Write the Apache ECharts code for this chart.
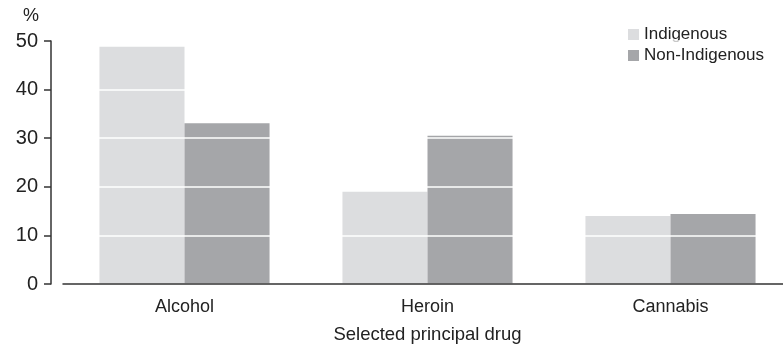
<!DOCTYPE html>
<html>
<head>
<meta charset="utf-8">
<script src="https://cdn.jsdelivr.net/npm/echarts@6/dist/echarts.min.js"></script>
<style>
html,body{margin:0;padding:0;background:#fff;}
#c{width:783px;height:349px;}
</style>
</head>
<body>
<div id="c"></div>
<script>
var categories = ['Alcohol', 'Heroin', 'Cannabis'];
var indigenous = [48.8, 19.0, 14.0];
var nonIndigenous = [33.1, 30.5, 14.4];
var yTicks = [0, 10, 20, 30, 40, 50];

var FONT = 'Liberation Sans, Arial, sans-serif';
var chart = echarts.init(document.getElementById('c'));
chart.setOption({
  animation: false,
  textStyle: {fontFamily: FONT, color: '#222'},
  grid: {left: 63, width: 729, top: 41, bottom: 65, outerBoundsMode: 'none', containLabel: false},
  legend: {
    data: ['Indigenous', 'Non-Indigenous'],
    orient: 'vertical',
    left: 628, top: 26,
    itemWidth: 11, itemHeight: 11, itemGap: 4, padding: 0,
    icon: 'rect',
    textStyle: {fontFamily: FONT, fontSize: 17, color: '#222'}
  },
  xAxis: {
    type: 'category',
    data: categories,
    z: 12,
    axisLine: {lineStyle: {color: '#333', width: 1.5}},
    axisTick: {alignWithLabel: true, length: 8, lineStyle: {color: '#333', width: 1.5}},
    axisLabel: {fontFamily: FONT, fontSize: 18, color: '#222', margin: 14},
    name: 'Selected principal drug',
    nameLocation: 'middle',
    nameGap: 41,
    nameTextStyle: {fontFamily: FONT, fontSize: 18.5, color: '#222'}
  },
  yAxis: {
    type: 'value',
    min: yTicks[0], max: yTicks[yTicks.length - 1], interval: 10,
    offset: 12,
    z: 10,
    name: '%',
    nameLocation: 'end',
    nameGap: 16,
    nameTextStyle: {fontFamily: FONT, fontSize: 18, color: '#222', align: 'right', padding: [0, 12, 0, 0]},
    axisLine: {show: true, lineStyle: {color: '#333', width: 1.5}},
    axisTick: {show: true, length: 7, lineStyle: {color: '#333', width: 1.5}},
    axisLabel: {fontFamily: FONT, fontSize: 20, color: '#222', margin: 13},
    splitLine: {show: true, lineStyle: {color: '#ffffff', width: 1.5}}
  },
  series: [
    {
      name: 'Indigenous', type: 'bar', data: indigenous,
      barGap: '0%', barCategoryGap: '30%',
      itemStyle: {color: '#dcdddf'}
    },
    {
      name: 'Non-Indigenous', type: 'bar', data: nonIndigenous,
      barGap: '0%', barCategoryGap: '30%',
      itemStyle: {color: '#a5a6a9'}
    }
  ]
});
</script>
</body>
</html>
